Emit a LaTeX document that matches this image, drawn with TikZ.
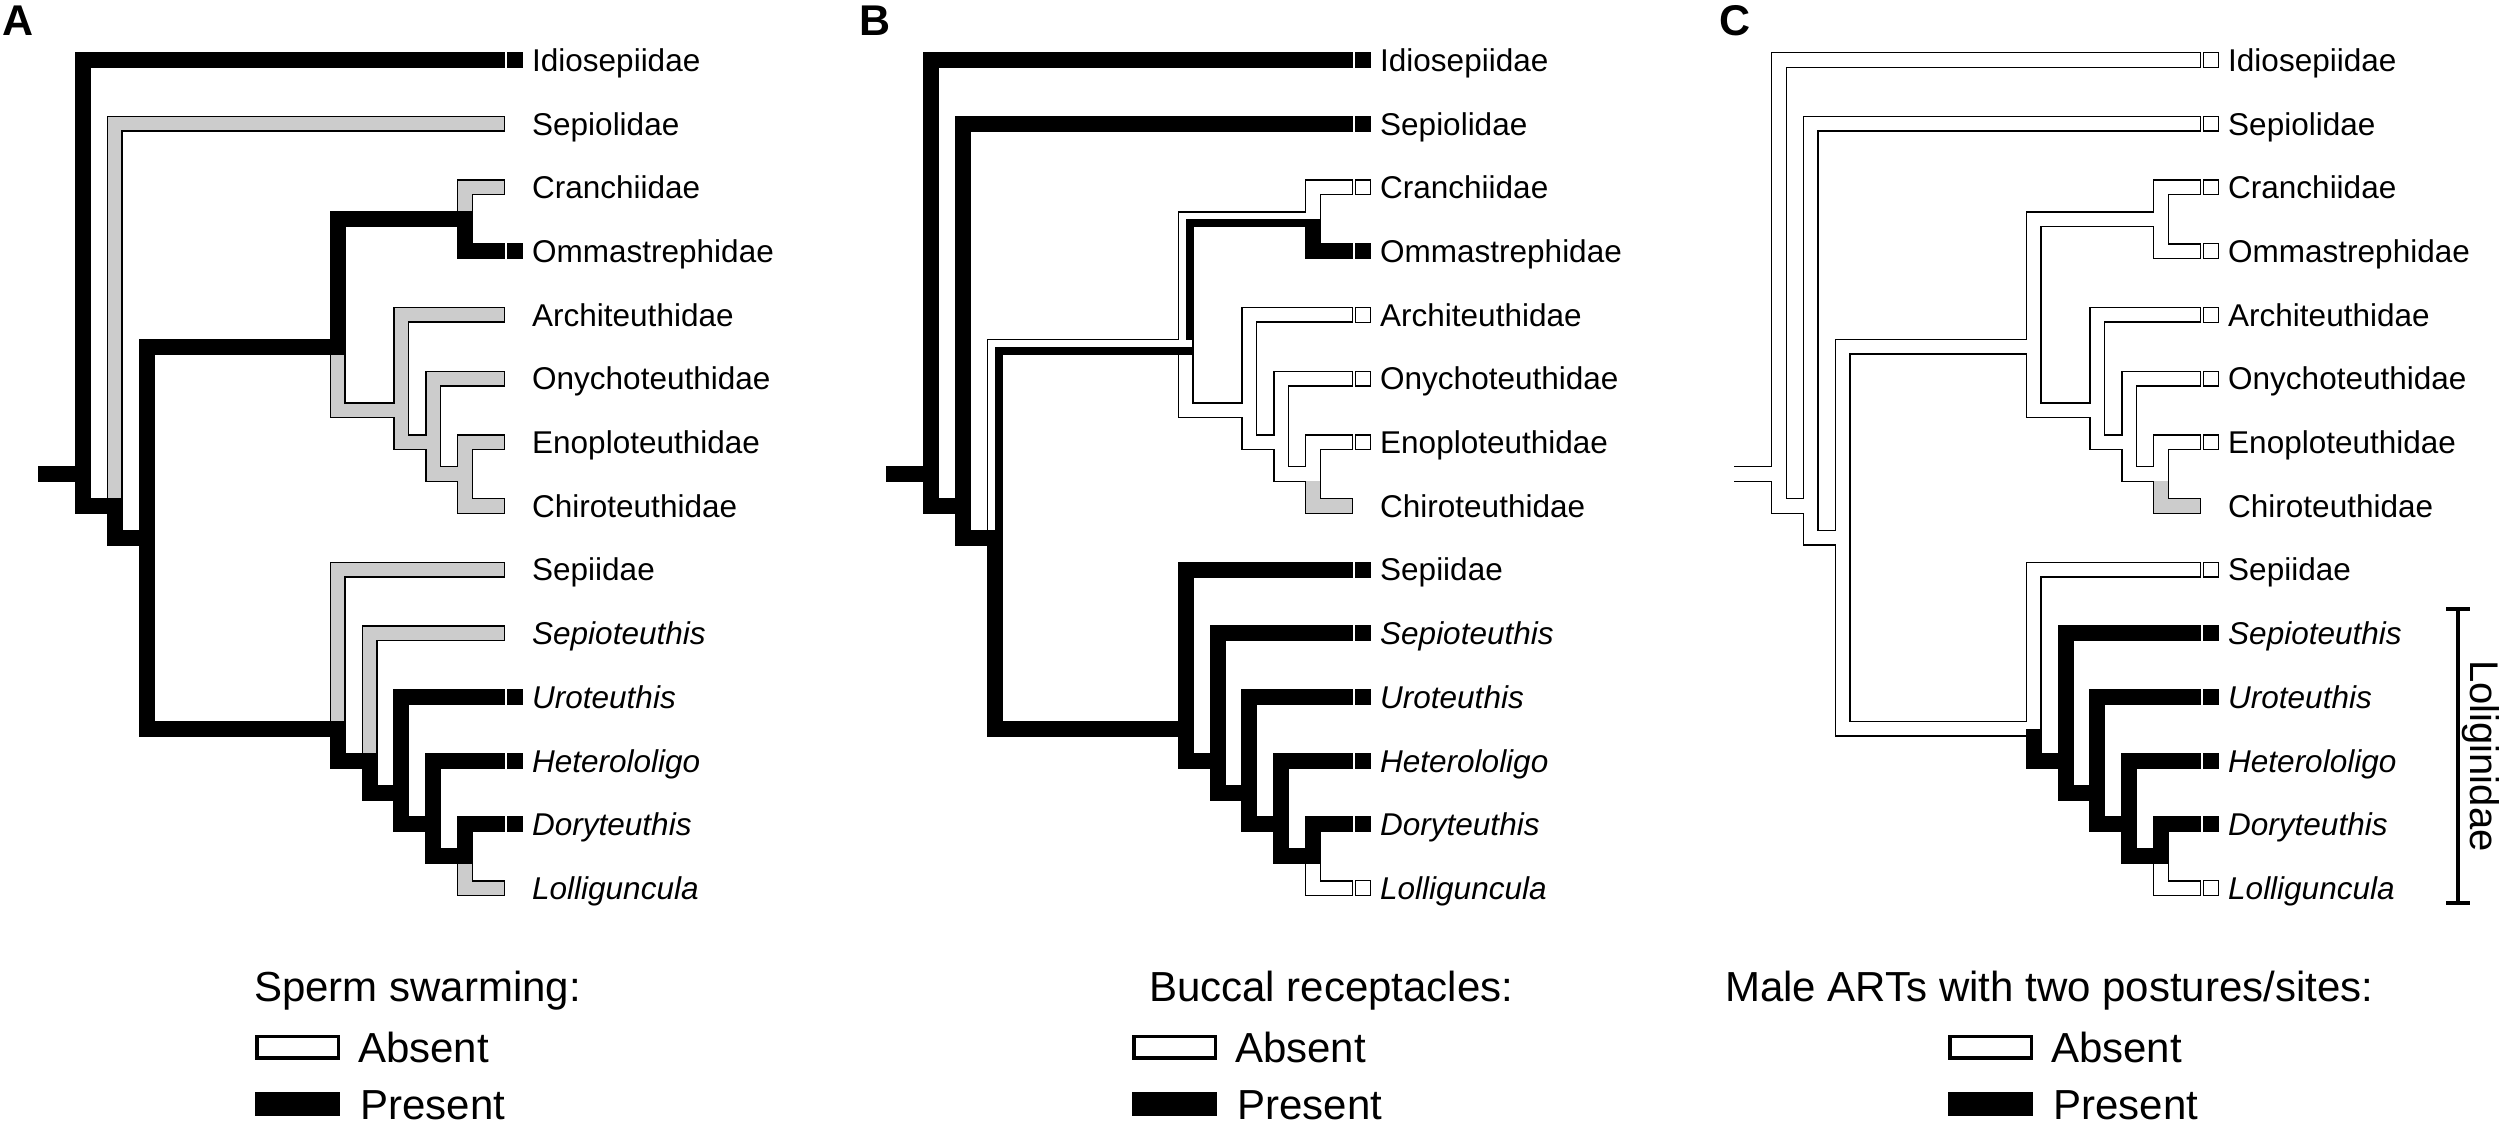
\documentclass[tikz,border=0pt]{standalone}
\usepackage{fontspec}
\setmainfont{Liberation Sans}
\usepackage{tikz}
\usetikzlibrary{positioning}
\definecolor{colorGrey}{gray}{0.8}
\newcommand{\taxfont}{\fontsize{31.5}{36}\selectfont}
\newcommand{\legfont}{\fontsize{42}{48}\selectfont}
\pgfdeclarelayer{lines}
\pgfdeclarelayer{greys}
\pgfdeclarelayer{whites}
\pgfsetlayers{lines,greys,whites,main}
\tikzset{
  blackBranch/.style={draw=black, line width=16pt, line cap=rect, shorten <=8pt},
  lineBranch/.style={draw=black, line width=16pt, line cap=rect, shorten <=8pt},
  greyBranch/.style={draw=colorGrey, line width=13.2pt, line cap=rect, shorten <=6.6pt},
  whiteBranch/.style={draw=white, line width=13.2pt, line cap=rect, shorten <=6.6pt},
  halfBranch/.style={draw=white, line width=6.7pt, line cap=rect, shorten <=3.35pt, shorten >=-3.25pt},
  fullSq/.style={fill=black, minimum size=16pt, inner sep=0pt},
  emptySq/.style={draw=black, fill=white, line width=1.3pt, minimum size=14.7pt, inner sep=0pt},
  taxon/.style={inner sep=0pt, text height=22.6pt, text depth=0pt, font=\taxfont},
  legendText/.style={inner sep=0pt, text height=30pt, text depth=0pt, font=\legfont},
  absentBox/.style={draw=black, fill=white, line width=3.5pt, minimum width=81.5pt, minimum height=21.5pt, inner sep=0pt},
  presentBox/.style={fill=black, minimum width=85pt, minimum height=24pt, inner sep=0pt},
  panelLetter/.style={inner sep=0pt, anchor=base west, font=\fontsize{43}{48}\selectfont\bfseries},
}
% branch macros: black, grey, white, half white / half black
\newcommand{\bbr}[3][]{\draw[blackBranch,#1] (#2) |- (#3);}
\newcommand{\gbr}[2]{%
  \begin{pgfonlayer}{lines}\draw[lineBranch] (#1) |- (#2);\end{pgfonlayer}
  \begin{pgfonlayer}{greys}\draw[greyBranch] (#1) |- (#2);\end{pgfonlayer}}
\newcommand{\wbr}[3][]{%
  \begin{pgfonlayer}{lines}\draw[lineBranch] (#2) |- (#3);\end{pgfonlayer}
  \begin{pgfonlayer}{whites}\draw[whiteBranch,#1] (#2) |- (#3);\end{pgfonlayer}}
\newcommand{\sbr}[2]{%
  \begin{pgfonlayer}{lines}\draw[lineBranch] (#1) |- (#2);\end{pgfonlayer}
  \begin{pgfonlayer}{whites}\draw[halfBranch] ([xshift=-3.35pt]#1) |- ([yshift=3.35pt]#2);\end{pgfonlayer}}
% nodes and tips of one tree
\newcommand{\treecoords}[2]{%
  \coordinate (#1r)   at (38+#2,474);
  \coordinate (#1n1)  at (83+#2,474);
  \coordinate (#1n2)  at (114.8+#2,505.9);
  \coordinate (#1n3)  at (146.7+#2,537.75);
  \coordinate (#1n4)  at (337.6+#2,346.65);
  \coordinate (#1n5)  at (465+#2,219.25);
  \coordinate (#1n6)  at (401.3+#2,410.35);
  \coordinate (#1n7)  at (433.1+#2,442.2);
  \coordinate (#1n8)  at (465+#2,474.05);
  \coordinate (#1n9)  at (337.6+#2,728.85);
  \coordinate (#1n10) at (369.5+#2,760.7);
  \coordinate (#1n11) at (401.3+#2,792.55);
  \coordinate (#1n12) at (433.1+#2,824.4);
  \coordinate (#1n13) at (465+#2,856.25);
  \coordinate (#1t0)  at (497+#2,60);
  \coordinate (#1t1)  at (497+#2,123.7);
  \coordinate (#1t2)  at (497+#2,187.4);
  \coordinate (#1t3)  at (497+#2,251.1);
  \coordinate (#1t4)  at (497+#2,314.8);
  \coordinate (#1t5)  at (497+#2,378.5);
  \coordinate (#1t6)  at (497+#2,442.2);
  \coordinate (#1t7)  at (497+#2,505.9);
  \coordinate (#1t8)  at (497+#2,569.6);
  \coordinate (#1t9)  at (497+#2,633.3);
  \coordinate (#1t10) at (497+#2,697);
  \coordinate (#1t11) at (497+#2,760.7);
  \coordinate (#1t12) at (497+#2,824.4);
  \coordinate (#1t13) at (497+#2,888.1);}
\newcommand{\taxlabels}[1]{%
  \node[taxon, right=35pt of #1t0] (#1l0) {Idiosepiidae};
  \node[taxon, right=35pt of #1t1] (#1l1) {Sepiolidae};
  \node[taxon, right=35pt of #1t2] (#1l2) {Cranchiidae};
  \node[taxon, right=35pt of #1t3] (#1l3) {Ommastrephidae};
  \node[taxon, right=35pt of #1t4] (#1l4) {Architeuthidae};
  \node[taxon, right=35pt of #1t5] (#1l5) {Onychoteuthidae};
  \node[taxon, right=35pt of #1t6] (#1l6) {Enoploteuthidae};
  \node[taxon, right=35pt of #1t7] (#1l7) {Chiroteuthidae};
  \node[taxon, right=35pt of #1t8] (#1l8) {Sepiidae};
  \node[taxon, right=35pt of #1t9] (#1l9) {\textit{Sepioteuthis}};
  \node[taxon, right=35pt of #1t10] (#1l10) {\textit{Uroteuthis}};
  \node[taxon, right=35pt of #1t11] (#1l11) {\textit{Heterololigo}};
  \node[taxon, right=35pt of #1t12] (#1l12) {\textit{Doryteuthis}};
  \node[taxon, right=35pt of #1t13] (#1l13) {\textit{Lolliguncula}};}

\begin{document}
\begin{tikzpicture}[x=1pt, y=-1pt]
\useasboundingbox (0,0) rectangle (2500,1127);
\treecoords{A}{0}
\treecoords{B}{848}
\treecoords{C}{1696}
\node[panelLetter] (letA) at (2,35) {A};
\node[panelLetter] (letB) at (859,35) {B};
\node[panelLetter] (letC) at (1719,35) {C};

% A: sperm swarming
\draw[blackBranch] (Ar) -- (An1);
\bbr{An1}{At0}
\bbr{An1}{An2}
\gbr{An2}{At1}
\bbr{An2}{An3}
\bbr{An3}{An4}
\bbr{An4}{An5}
\gbr{An5}{At2}
\bbr{An5}{At3}
\gbr{An4}{An6}
\gbr{An6}{At4}
\gbr{An6}{An7}
\gbr{An7}{At5}
\gbr{An7}{An8}
\gbr{An8}{At6}
\gbr{An8}{At7}
\bbr{An3}{An9}
\gbr{An9}{At8}
\bbr{An9}{An10}
\gbr{An10}{At9}
\bbr{An10}{An11}
\bbr{An11}{At10}
\bbr{An11}{An12}
\bbr{An12}{At11}
\bbr{An12}{An13}
\bbr{An13}{At12}
\gbr{An13}{At13}
\node[fullSq, right=10pt of At0] (As0) {};
\node[fullSq, right=10pt of At3] (As3) {};
\node[fullSq, right=10pt of At10] (As10) {};
\node[fullSq, right=10pt of At11] (As11) {};
\node[fullSq, right=10pt of At12] (As12) {};
\taxlabels{A}

% B: buccal receptacles
\draw[blackBranch] (Br) -- (Bn1);
\bbr{Bn1}{Bt0}
\bbr{Bn1}{Bn2}
\bbr{Bn2}{Bt1}
\bbr{Bn2}{Bn3}
\sbr{Bn3}{Bn4}
\sbr{Bn4}{Bn5}
\wbr{Bn5}{Bt2}
\bbr{Bn5}{Bt3}
\wbr[shorten <=14.6pt]{Bn4}{Bn6}
\wbr{Bn6}{Bt4}
\wbr{Bn6}{Bn7}
\wbr{Bn7}{Bt5}
\wbr{Bn7}{Bn8}
\wbr{Bn8}{Bt6}
\gbr{Bn8}{Bt7}
\bbr{Bn3}{Bn9}
\bbr{Bn9}{Bt8}
\bbr{Bn9}{Bn10}
\bbr{Bn10}{Bt9}
\bbr{Bn10}{Bn11}
\bbr{Bn11}{Bt10}
\bbr{Bn11}{Bn12}
\bbr{Bn12}{Bt11}
\bbr{Bn12}{Bn13}
\bbr{Bn13}{Bt12}
\wbr{Bn13}{Bt13}
\node[fullSq, right=10pt of Bt0] (Bs0) {};
\node[fullSq, right=10pt of Bt1] (Bs1) {};
\node[emptySq, right=10pt of Bt2] (Bs2) {};
\node[fullSq, right=10pt of Bt3] (Bs3) {};
\node[emptySq, right=10pt of Bt4] (Bs4) {};
\node[emptySq, right=10pt of Bt5] (Bs5) {};
\node[emptySq, right=10pt of Bt6] (Bs6) {};
\node[fullSq, right=10pt of Bt8] (Bs8) {};
\node[fullSq, right=10pt of Bt9] (Bs9) {};
\node[fullSq, right=10pt of Bt10] (Bs10) {};
\node[fullSq, right=10pt of Bt11] (Bs11) {};
\node[fullSq, right=10pt of Bt12] (Bs12) {};
\node[emptySq, right=10pt of Bt13] (Bs13) {};
\taxlabels{B}

% C: male ARTs
\begin{pgfonlayer}{lines}\draw[lineBranch] (Cr) -- (Cn1);\end{pgfonlayer}
\begin{pgfonlayer}{whites}\draw[whiteBranch] (Cr) -- (Cn1);\end{pgfonlayer}
\wbr{Cn1}{Ct0}
\wbr{Cn1}{Cn2}
\wbr{Cn2}{Ct1}
\wbr{Cn2}{Cn3}
\wbr{Cn3}{Cn4}
\wbr{Cn4}{Cn5}
\wbr{Cn5}{Ct2}
\wbr{Cn5}{Ct3}
\wbr{Cn4}{Cn6}
\wbr{Cn6}{Ct4}
\wbr{Cn6}{Cn7}
\wbr{Cn7}{Ct5}
\wbr{Cn7}{Cn8}
\wbr{Cn8}{Ct6}
\gbr{Cn8}{Ct7}
\wbr{Cn3}{Cn9}
\wbr{Cn9}{Ct8}
\bbr{Cn9}{Cn10}
\bbr{Cn10}{Ct9}
\bbr{Cn10}{Cn11}
\bbr{Cn11}{Ct10}
\bbr{Cn11}{Cn12}
\bbr{Cn12}{Ct11}
\bbr{Cn12}{Cn13}
\bbr{Cn13}{Ct12}
\wbr{Cn13}{Ct13}
\node[emptySq, right=10pt of Ct0] (Cs0) {};
\node[emptySq, right=10pt of Ct1] (Cs1) {};
\node[emptySq, right=10pt of Ct2] (Cs2) {};
\node[emptySq, right=10pt of Ct3] (Cs3) {};
\node[emptySq, right=10pt of Ct4] (Cs4) {};
\node[emptySq, right=10pt of Ct5] (Cs5) {};
\node[emptySq, right=10pt of Ct6] (Cs6) {};
\node[emptySq, right=10pt of Ct8] (Cs8) {};
\node[fullSq, right=10pt of Ct9] (Cs9) {};
\node[fullSq, right=10pt of Ct10] (Cs10) {};
\node[fullSq, right=10pt of Ct11] (Cs11) {};
\node[fullSq, right=10pt of Ct12] (Cs12) {};
\node[emptySq, right=10pt of Ct13] (Cs13) {};
\taxlabels{C}
% Loliginidae bracket
\coordinate (lolTop) at (2458,609);
\coordinate (lolBot) at (2458,903);
\draw[line width=3.5pt] (lolTop) -- (lolBot)
  ([xshift=-12pt]lolTop) -- ([xshift=12pt]lolTop)
  ([xshift=-12pt]lolBot) -- ([xshift=12pt]lolBot);
\node[rotate=-90, anchor=base, inner sep=0pt, font=\fontsize{40}{44}\selectfont] (lolName) at (2470,756) {Loliginidae};

% legends
\node[legendText, anchor=west] (titA) at (254,986) {Sperm swarming:};
\node[absentBox] (absA) at (297.5,1047) {};
\node[presentBox] (preA) at (297.5,1104) {};
\node[legendText, right=18pt of absA] (absTxtA) {Absent};
\node[legendText, right=20pt of preA] (preTxtA) {Present};

\node[legendText, anchor=west] (titB) at (1149,986) {Buccal receptacles:};
\node[absentBox] (absB) at (1174.5,1047) {};
\node[presentBox] (preB) at (1174.5,1104) {};
\node[legendText, right=18pt of absB] (absTxtB) {Absent};
\node[legendText, right=20pt of preB] (preTxtB) {Present};

\node[legendText, anchor=west] (titC) at (1725,986) {Male ARTs with two postures/sites:};
\node[absentBox] (absC) at (1990.5,1047) {};
\node[presentBox] (preC) at (1990.5,1104) {};
\node[legendText, right=18pt of absC] (absTxtC) {Absent};
\node[legendText, right=20pt of preC] (preTxtC) {Present};
\end{tikzpicture}
\end{document}
